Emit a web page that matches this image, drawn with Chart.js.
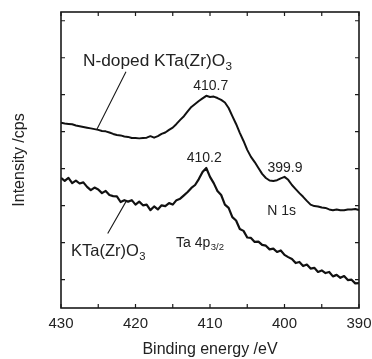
<!DOCTYPE html>
<html>
<head>
<meta charset="utf-8">
<script src="https://cdn.jsdelivr.net/npm/chart.js@4.4.0/dist/chart.umd.min.js"></script>
<style>
  html, body { margin: 0; padding: 0; background: #fff; }
</style>
</head>
<body>
<canvas id="xps" width="372" height="359"></canvas>
<script>
// binding energy grid, eV (430 -> 390)
const energy = [
  430, 429.5, 429, 428.5, 428, 427.5, 427, 426.5, 426, 425.5,
  425, 424.5, 424, 423.5, 423, 422.5, 422, 421.5, 421, 420.5,
  420, 419.5, 419, 418.5, 418, 417.5, 417, 416.5, 416, 415.5,
  415, 414.5, 414, 413.5, 413, 412.5, 412, 411.5, 411, 410.5,
  410, 409.5, 409, 408.5, 408, 407.5, 407, 406.5, 406, 405.5,
  405, 404.5, 404, 403.5, 403, 402.5, 402, 401.5, 401, 400.5,
  400, 399.5, 399, 398.5, 398, 397.5, 397, 396.5, 396, 395.5,
  395, 394.5, 394, 393.5, 393, 392.5, 392, 391.5, 391, 390.5,
  390
];

// N-doped KTa(Zr)O3, arbitrary intensity
const nDoped = [
  424, 422, 421, 420, 417, 415, 413, 411, 409, 407,
  405, 402, 401, 398, 394, 391, 390, 387, 386, 383,
  383, 382, 383, 384, 388, 384, 388, 394, 398, 405,
  411, 421, 432, 442, 455, 467, 475, 483, 490, 497,
  494, 495, 491, 486, 479, 464, 442, 421, 397, 375,
  351, 332, 318, 302, 286, 275, 268, 267, 269, 274,
  278, 270, 256, 245, 234, 224, 213, 203, 199, 198,
  195, 194, 190, 188, 190, 188, 188, 190, 190, 191,
  188
];

// KTa(Zr)O3, arbitrary intensity
const undoped = [
  275, 267, 275, 261, 268, 260, 263, 251, 242, 249,
  244, 234, 240, 229, 226, 225, 210, 215, 211, 215,
  203, 211, 201, 203, 188, 198, 190, 201, 199, 207,
  203, 215, 219, 228, 237, 248, 256, 272, 291, 302,
  278, 261, 240, 229, 203, 194, 169, 160, 137, 132,
  114, 113, 102, 103, 94, 92, 82, 84, 75, 79,
  67, 61, 56, 45, 48, 37, 41, 30, 32, 21,
  25, 18, 21, 9, 13, 5, 10, -1, 0, -10,
  -9
];

const xLabels = [430, 420, 410, 400, 390];
const xMarks = [430, 425, 420, 415, 410, 405, 400, 395, 390];
const yMarks = [0, 100, 200, 300, 400, 500, 600, 700];

// text notes: [text, subscript, eV, intensity (baseline), align, size]
const notes = [
  ['N-doped KTa(Zr)O', '3', 427.05, 578, 'left', 17.3],
  ['410.7', '', 409.91, 513, 'center', 14],
  ['410.2', '', 410.77, 319, 'center', 14],
  ['399.9', '', 399.93, 292, 'center', 14],
  ['N 1s', '', 400.38, 175, 'center', 14],
  ['Ta 4p', '3/2', 414.56, 89, 'left', 14],
  ['KTa(Zr)O', '3', 428.66, 64, 'left', 16.5]
];
// leader lines: [eV1, int1, eV2, int2]
const leaders = [
  [421.28, 562, 425.21, 405],
  [423.73, 125, 421.28, 211]
];

const FONT = "'Liberation Sans', Arial, sans-serif";
const INK = '#1a1a1a';

const frameAndNotes = {
  id: 'frameAndNotes',
  afterDraw(chart) {
    const { ctx, chartArea: a, scales: { x, y } } = chart;
    ctx.save();
    ctx.strokeStyle = INK;
    ctx.lineWidth = 1.6;
    ctx.strokeRect(a.left, a.top, a.right - a.left, a.bottom - a.top);

    ctx.lineWidth = 1.2;
    ctx.beginPath();
    xMarks.forEach(e => {
      const px = x.getPixelForValue(e);
      ctx.moveTo(px, a.bottom); ctx.lineTo(px, a.bottom - 4);
      ctx.moveTo(px, a.top); ctx.lineTo(px, a.top + 4);
    });
    yMarks.forEach(v => {
      const py = y.getPixelForValue(v);
      ctx.moveTo(a.left, py); ctx.lineTo(a.left + 4, py);
      ctx.moveTo(a.right, py); ctx.lineTo(a.right - 4, py);
    });
    ctx.stroke();

    ctx.lineWidth = 1.1;
    ctx.beginPath();
    leaders.forEach(l => {
      ctx.moveTo(x.getPixelForValue(l[0]), y.getPixelForValue(l[1]));
      ctx.lineTo(x.getPixelForValue(l[2]), y.getPixelForValue(l[3]));
    });
    ctx.stroke();

    ctx.fillStyle = '#222';
    ctx.textBaseline = 'alphabetic';
    notes.forEach(([txt, sub, e, v, align, size]) => {
      const px = x.getPixelForValue(e);
      const py = y.getPixelForValue(v);
      ctx.font = size + 'px ' + FONT;
      const w1 = ctx.measureText(txt).width;
      const subSize = size * 0.68;
      ctx.font = subSize + 'px ' + FONT;
      const w2 = sub ? ctx.measureText(sub).width : 0;
      let left = px;
      if (align === 'center') left = px - (w1 + w2) / 2;
      ctx.textAlign = 'left';
      ctx.font = size + 'px ' + FONT;
      ctx.fillText(txt, left, py);
      if (sub) {
        ctx.font = subSize + 'px ' + FONT;
        ctx.fillText(sub, left + w1 + 0.5, py + size * 0.22);
      }
    });
    ctx.restore();
  }
};

new Chart(document.getElementById('xps'), {
  type: 'line',
  data: {
    datasets: [
      {
        label: 'N-doped KTa(Zr)O3',
        data: energy.map((e, i) => ({ x: e, y: nDoped[i] })),
        borderColor: '#111',
        borderWidth: 2,
        pointRadius: 0,
        tension: 0,
        borderJoinStyle: 'round'
      },
      {
        label: 'KTa(Zr)O3',
        data: energy.map((e, i) => ({ x: e, y: undoped[i] })),
        borderColor: '#111',
        borderWidth: 2.2,
        pointRadius: 0,
        tension: 0,
        borderJoinStyle: 'round'
      }
    ]
  },
  options: {
    responsive: false,
    devicePixelRatio: 1,
    animation: false,
    layout: { padding: { left: 0, right: 13, top: 12, bottom: 0 } },
    plugins: { legend: { display: false }, tooltip: { enabled: false } },
    scales: {
      x: {
        type: 'linear',
        reverse: true,
        min: 390,
        max: 430,
        afterBuildTicks: s => { s.ticks = xLabels.map(v => ({ value: v })); },
        afterFit: s => { s.height = 51; s.paddingLeft = 0; s.paddingRight = 0; },
        grid: { display: false, drawTicks: false },
        border: { display: false },
        ticks: {
          color: '#222',
          padding: 7,
          maxRotation: 0,
          font: { family: FONT, size: 15 },
          callback: v => String(v)
        },
        title: {
          display: true,
          text: 'Binding energy /eV',
          color: '#222',
          font: { family: FONT, size: 16 },
          padding: { top: 0, bottom: 0 }
        }
      },
      y: {
        min: -76.5,
        max: 723.6,
        afterBuildTicks: s => { s.ticks = yMarks.map(v => ({ value: v })); },
        afterFit: s => { s.width = 61; s.paddingTop = 0; s.paddingBottom = 0; },
        grid: { display: false, drawTicks: false },
        border: { display: false },
        ticks: { display: false },
        title: {
          display: true,
          text: 'Intensity /cps',
          color: '#222',
          font: { family: FONT, size: 16 },
          padding: { top: 10, bottom: 0 }
        }
      }
    }
  },
  plugins: [frameAndNotes]
});
</script>
</body>
</html>
